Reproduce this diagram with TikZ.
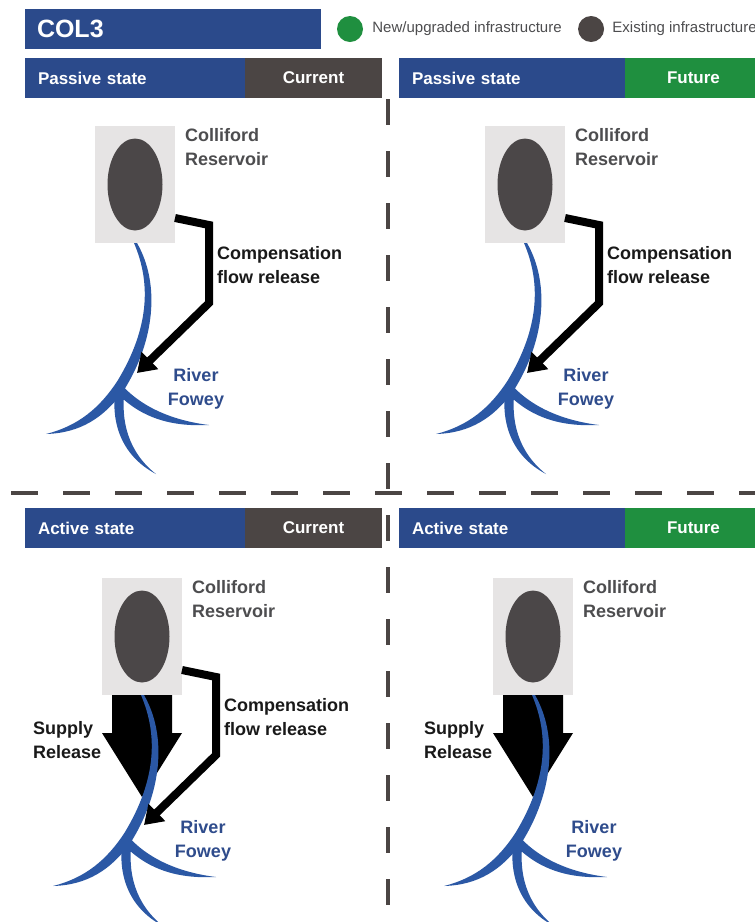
\documentclass[tikz,border=0pt]{standalone}
\usepackage{fontspec}
\setmainfont{Liberation Sans}
\usetikzlibrary{arrows.meta,positioning,shapes.geometric}
\definecolor{colblue}{HTML}{2B4A8B}
\definecolor{colgrey}{HTML}{4B4544}
\definecolor{colgreen}{HTML}{1F8F3F}
\definecolor{lakegrey}{HTML}{4B4748}
\definecolor{boxgrey}{HTML}{E6E4E4}
\definecolor{riverblue}{HTML}{2B58A5}
\definecolor{labelgrey}{HTML}{4D4D4F}
\definecolor{rivertext}{HTML}{2F4C8C}

\begin{document}
\begin{tikzpicture}[x=1pt, y=-1pt,
  bar/.style={minimum height=40pt, inner ysep=0pt, outer sep=0pt, text=white,
              font=\bfseries\fontsize{17}{20}\selectfont, anchor=north west},
  title bar/.style={bar, fill=colblue, minimum width=296pt, text width=272pt,
                    inner xsep=12pt, align=left,
                    font=\bfseries\fontsize{25}{30}\selectfont},
  state bar/.style={bar, fill=colblue, inner xsep=13pt, align=left},
  tag bar/.style={bar, fill=colgrey, minimum width=137pt, inner xsep=0pt},
  legend dot/.style={circle, minimum size=26pt, inner sep=0pt},
  legend text/.style={font=\fontsize{15}{18}\selectfont, text=labelgrey,
                      inner sep=0pt, anchor=west},
  res box/.style={fill=boxgrey, minimum width=80pt, minimum height=117pt,
                  inner sep=0pt},
  lake/.style={ellipse, fill=lakegrey, minimum width=55pt,
               minimum height=92pt, inner sep=0pt},
  river/.style={fill=riverblue},
  supply/.style={fill=black},
  comp flow/.style={draw=black, line width=8pt, line join=miter,
                    -{Triangle[length=18pt, width=23pt]}},
  place label/.style={font=\bfseries\fontsize{18}{24}\selectfont,
                      text=labelgrey, align=left, inner sep=0pt},
  flow label/.style={place label, text=black!90},
  river label/.style={place label, text=rivertext, align=center},
  divider/.style={draw=colgrey, line width=4.5pt},
]
  \useasboundingbox (0,0) rectangle (755,922);
  \fill[white] (0,0) rectangle (755,922);

  % #1 name, #2 x, #3 y, #4 compensation flow (1/0), #5 supply release (1/0)
  \newcommand{\reservoirpanel}[5]{%
    \begin{scope}[shift={(#2,#3)}]
      \node[res box] (#1-res) at (135,184.5) {};
      \node[lake] (#1-lake) at (#1-res) {};
      \node[place label, anchor=west] (#1-name) at (185,147) {Colliford\\Reservoir};
      \coordinate (#1-out) at (175,218);
      \coordinate (#1-junc) at (137,373);
      \ifnum#5=1
        % Supply release straight out of the reservoir.
        \fill[supply] (105,243) -- (165,243) -- (165,281) -- (175,281)
          -- (135,345) -- (95,281) -- (105,281) -- cycle;
        \node[flow label, anchor=west] (#1-supply) at (26,288) {Supply\\Release};
      \fi
      % River Fowey: main channel bending off to the left, two side branches.
      \fill[river] (134,243) .. controls (152,285) and (148,330) .. (118,380)
        .. controls (100,408) and (78,426) .. (46,434)
        .. controls (80,433) and (104,418) .. (124,390)
        .. controls (154,342) and (161,285) .. (137,243) -- cycle;
      \fill[river] (116,386) .. controls (110,420) and (120,455) .. (156,474)
        .. controls (128,452) and (120,420) .. (125,388) -- cycle;
      \fill[river] (121,384) .. controls (138,404) and (168,420) .. (209,425)
        .. controls (168,427) and (142,416) .. (122,398) -- cycle;
      \node[river label] (#1-river) at (196,389) {River\\Fowey};
      \ifnum#4=1
        % Compensation flow round the side of the dam.
        \draw[comp flow] (#1-out) -- (209,225) -- (209,303) -- (#1-junc);
        \node[flow label, anchor=west] (#1-comp) at (217,265) {Compensation\\flow release};
      \fi
    \end{scope}%
  }

  % Title and legend.
  \node[title bar] (title) at (25,9) {COL3};
  \node[legend dot, fill=colgreen] (new-dot) at (350,29) {};
  \node[legend text, right=9pt of new-dot] (new-text) {New/upgraded infrastructure};
  \node[legend dot, fill=colgrey, right=16pt of new-text] (old-dot) {};
  \node[legend text, right=8pt of old-dot] (old-text) {Existing infrastructure};

  % State bars.
  \node[state bar, text width=194pt] (pc-state) at (25,58) {Passive state};
  \node[tag bar, right=0pt of pc-state] (pc-tag) {Current};
  \node[state bar, text width=200pt] (pf-state) at (399,58) {Passive state};
  \node[tag bar, fill=colgreen, right=0pt of pf-state] (pf-tag) {Future};
  \node[state bar, text width=194pt] (ac-state) at (25,508) {Active state};
  \node[tag bar, right=0pt of ac-state] (ac-tag) {Current};
  \node[state bar, text width=200pt] (af-state) at (399,508) {Active state};
  \node[tag bar, fill=colgreen, right=0pt of af-state] (af-tag) {Future};

  % Quadrant dividers.
  \draw[divider, dash pattern=on 27pt off 25pt] (11,493) -- (755,493);
  \draw[divider, dash pattern=on 26pt off 26pt] (388,99) -- (388,922);

  % Four scenarios.
  \reservoirpanel{pc}{0}{0}{1}{0}
  \reservoirpanel{pf}{390}{0}{1}{0}
  \reservoirpanel{ac}{7}{452}{1}{1}
  \reservoirpanel{af}{398}{452}{0}{1}
\end{tikzpicture}
\end{document}
